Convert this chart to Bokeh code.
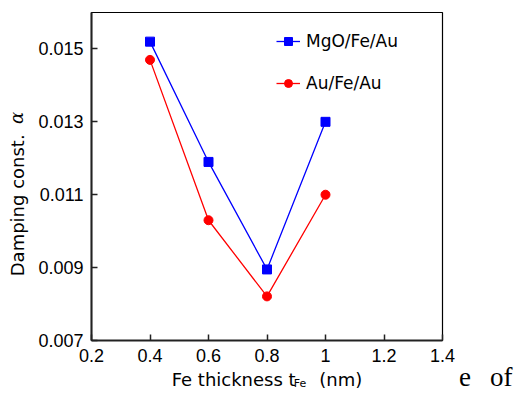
from bokeh.plotting import figure
from bokeh.models import Legend, LegendItem, FixedTicker, Range1d, LinearAxis
from bokeh.embed import file_html
from bokeh.resources import INLINE

thickness = [0.4, 0.6, 0.8, 1.0]
mgo_fe_au = [0.0152, 0.0119, 0.00895, 0.0130]
au_fe_au = [0.0147, 0.0103, 0.00821, 0.0110]
x_ticks = [0.2, 0.4, 0.6, 0.8, 1.0, 1.2, 1.4]
y_ticks = [0.007, 0.009, 0.011, 0.013, 0.015]
x_label = "Fe thickness t\u2002\u2002 (nm)"
x_label_sub = "\u2003" * 6 + "Fe"
y_label = "Damping const." + "\u2003" * 3 + "\u2009"
y_label_sym = "\u2003" * 6 + "\u2002" + "α"
stray_text = "\u2003" * 16 + "\u2009" + "e\u2002\u2009of"

FONT = "Liberation Sans"
LFONT = "DejaVu Sans"

p = figure(width=519, height=394, output_backend="svg", toolbar_location=None,
           x_range=Range1d(0.2, 1.4), y_range=Range1d(0.007, 0.016),
           min_border_left=91, min_border_right=77, min_border_top=12, min_border_bottom=53)
p.grid.visible = False
p.outline_line_color = "black"
p.outline_line_width = 1.2
p.background_fill_color = "white"
p.border_fill_color = "white"

for ax in (p.xaxis[0], p.yaxis[0]):
    ax.major_tick_in = 6
    ax.major_tick_out = 0
    ax.minor_tick_line_color = None
    ax.axis_line_color = "#222222"
    ax.axis_line_width = 2
    ax.major_tick_line_color = "#222222"
    ax.major_tick_line_width = 1.5
    ax.major_label_text_font = FONT
    ax.major_label_text_font_size = "18px"
    ax.major_label_text_color = "black"
    ax.axis_label_text_font = LFONT
    ax.axis_label_text_font_size = "18px"
    ax.axis_label_text_font_style = "normal"
    ax.axis_label_text_color = "black"

p.xaxis.ticker = FixedTicker(ticks=x_ticks)
p.xaxis.major_label_overrides = {1.0: "1"}
p.xaxis.major_label_standoff = 8
p.xaxis.axis_label = x_label
p.xaxis.axis_label_standoff = 4
p.yaxis.ticker = FixedTicker(ticks=y_ticks)
p.yaxis.major_label_standoff = 8
p.yaxis.axis_label = y_label
p.yaxis.axis_label_standoff = 7

def text_axis(label, size, standoff, font=LFONT, style="normal"):
    return LinearAxis(ticker=FixedTicker(ticks=[]), axis_line_color=None,
                      major_tick_line_color=None, minor_tick_line_color=None,
                      axis_label=label, axis_label_text_font=font,
                      axis_label_text_font_size=size, axis_label_text_font_style=style,
                      axis_label_text_color="black", axis_label_standoff=standoff,
                      major_label_standoff=0, major_tick_in=0, major_tick_out=0)

# stray text from the source page, then the subscript of the x label
p.add_layout(text_axis(stray_text, "27px", -31, font="Liberation Serif"), "below")
p.add_layout(text_axis(x_label_sub, "11px", -18), "below")
p.add_layout(text_axis(y_label_sym, "18px", -22, font="DejaVu Serif", style="italic"), "left")

l1 = p.line(thickness, mgo_fe_au, line_color="#0000FF", line_width=1.3)
m1 = p.scatter(thickness, mgo_fe_au, marker="square", size=9, fill_color="#0000FF", line_color="#0000FF")
l2 = p.line(thickness, au_fe_au, line_color="#FF0000", line_width=1.3)
m2 = p.scatter(thickness, au_fe_au, marker="circle", size=9, fill_color="#FF0000", line_color="#FF0000")

legend = Legend(items=[LegendItem(label="MgO/Fe/Au", renderers=[l1, m1]),
                       LegendItem(label="Au/Fe/Au", renderers=[l2, m2])],
                location=(185, 247), border_line_color=None, background_fill_alpha=0,
                label_text_font=LFONT, label_text_font_size="17px", label_text_color="black",
                glyph_width=24, label_standoff=6, spacing=22, padding=0, margin=0)
p.add_layout(legend)

open("out.html", "w").write(file_html(p, INLINE))
